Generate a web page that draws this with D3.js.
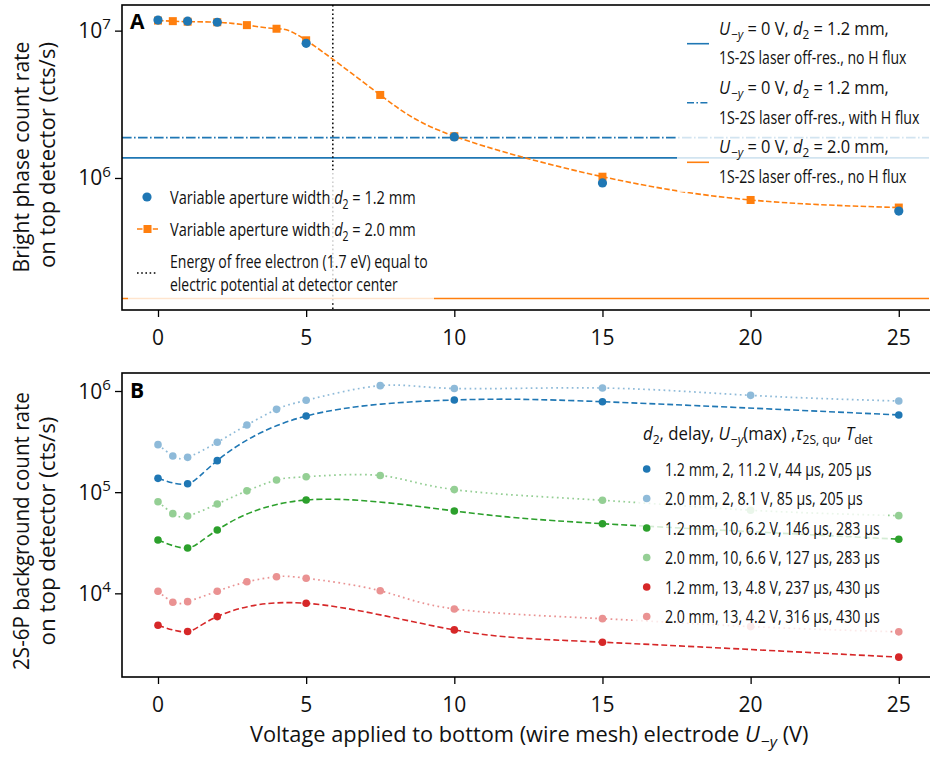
<!DOCTYPE html>
<html><head><meta charset="utf-8">
<script src="https://cdn.jsdelivr.net/npm/d3@7"></script>
<style>
body{margin:0;background:#fff;}
svg{display:block;}
</style></head><body>
<svg id="c" width="930" height="758"></svg>
<script>
// ---------------- data ----------------
const xTicks = [0, 5, 10, 15, 20, 25];
const yTicksA = [1e6, 1e7];
const yTicksB = [1e4, 1e5, 1e6];

// Panel A: bright phase count rate
const voltsA12 = [0, 1, 2, 5, 10, 15, 25];
const rateA12  = [1.18e7, 1.16e7, 1.14e7, 8.2e6, 1.9e6, 9.25e5, 5.96e5];
const voltsA20 = [0, 0.5, 1, 2, 3, 4, 5, 7.5, 10, 15, 20, 25];
const rateA20  = [1.17e7, 1.16e7, 1.15e7, 1.14e7, 1.09e7, 1.03e7, 8.6e6, 3.66e6, 1.92e6, 1.02e6, 7.09e5, 6.3e5];
const refLevels = [1.37e6, 1.88e6, 1.52e5];   // off-res: d2=1.2 no H, d2=1.2 with H, d2=2.0 no H
const freeElectronV = 5.9;

// Panel B: 2S-6P background count rate
const voltsB12 = [0, 1, 2, 5, 10, 15, 25];
const voltsB20 = [0, 0.5, 1, 2, 3, 4, 5, 7.5, 10, 15, 20, 25];
const bg12_delay2  = [1.37e5, 1.21e5, 2.05e5, 5.66e5, 8.15e5, 7.84e5, 5.8e5];
const bg20_delay2  = [2.95e5, 2.28e5, 2.21e5, 3.11e5, 4.61e5, 6.59e5, 8.09e5, 1.13e6, 1.06e6, 1.07e6, 9.06e5, 7.96e5];
const bg12_delay10 = [3.37e4, 2.81e4, 4.23e4, 8.37e4, 6.52e4, 4.88e4, 3.43e4];
const bg20_delay10 = [8.05e4, 6.13e4, 5.82e4, 7.64e4, 1.03e5, 1.32e5, 1.42e5, 1.46e5, 1.06e5, 8.31e4, 6.63e4, 5.86e4];
const bg12_delay13 = [4.84e3, 4.19e3, 5.89e3, 7.98e3, 4.35e3, 3.29e3, 2.34e3];
const bg20_delay13 = [1.05e4, 8.17e3, 8.28e3, 1.05e4, 1.30e4, 1.46e4, 1.41e4, 1.06e4, 7.01e3, 5.62e3, 4.69e3, 4.16e3];
const legendB = [
  "1.2 mm, 2, 11.2 V, 44 µs, 205 µs",
  "2.0 mm, 2, 8.1 V, 85 µs, 205 µs",
  "1.2 mm, 10, 6.2 V, 146 µs, 283 µs",
  "2.0 mm, 10, 6.6 V, 127 µs, 283 µs",
  "1.2 mm, 13, 4.8 V, 237 µs, 430 µs",
  "2.0 mm, 13, 4.2 V, 316 µs, 430 µs"
];

// ---------------- setup ----------------
const BLUE = "#1f77b4", ORANGE = "#ff7f0e", GREEN = "#2ca02c", RED = "#d62728";
const svg = d3.select("#c");
const L = 122, R = 929;
const A = {top: 5, bottom: 310}, B = {top: 373, bottom: 677};
const x = d3.scaleLinear().domain([-1.215, 26.02]).range([L, R]);
const yA = d3.scaleLog().domain([Math.pow(10, 5.104), Math.pow(10, 7.174)]).range([A.bottom, A.top]);
const yB = d3.scaleLog().domain([Math.pow(10, 3.173), Math.pow(10, 6.178)]).range([B.bottom, B.top]);

const NUM = '"Open Sans", "Noto Sans", sans-serif';
const COND = '"Open Sans", "Noto Sans", sans-serif';

// text with italic / sub / sup runs; optional horizontal squeeze to a target width
function rich(g, xx, yy, parts, size, family, len, anchor, rot) {
  const wrap = g.append("g").attr("transform", `translate(${xx},${yy})` + (rot ? ` rotate(${rot})` : ""));
  const t = wrap.append("text").attr("x", 0).attr("y", 0)
    .style("font-family", family).style("font-size", size + "px")
    .attr("text-anchor", anchor || "start").attr("fill", "#111");
  let shift = 0;
  parts.forEach(p => {
    const ts = t.append("tspan").text(p.t);
    const target = p.sub ? size * 0.24 : (p.sup ? -size * 0.42 : 0);
    if (target !== shift) { ts.attr("dy", target - shift); shift = target; }
    if (p.sub || p.sup) ts.style("font-size", (size * 0.72) + "px");
    if (p.it) ts.style("font-style", "italic");
    if (p.dx) ts.attr("dx", p.dx);
  });
  if (len) {
    const w = t.node().getBBox().width;
    if (w > 0) wrap.attr("transform", `translate(${xx},${yy})` + (rot ? ` rotate(${rot})` : "") + ` scale(${len / w},1)`);
  }
  return t;
}

const lineGen = (ys) => d3.line().x(d => x(d[0])).y(d => ys(d[1])).curve(d3.curveNatural);
const zip = (a, b) => a.map((v, i) => [v, b[i]]);

// ---------------- Panel A ----------------
const gA = svg.append("g");
svg.append("clipPath").attr("id", "clipA").append("rect")
  .attr("x", L).attr("y", A.top).attr("width", R - L).attr("height", A.bottom - A.top);
const pA = gA.append("g").attr("clip-path", "url(#clipA)");

pA.append("line").attr("x1", L).attr("x2", R).attr("y1", yA(refLevels[0])).attr("y2", yA(refLevels[0]))
  .attr("stroke", BLUE).attr("stroke-width", 1.6);
pA.append("line").attr("x1", L).attr("x2", R).attr("y1", yA(refLevels[1])).attr("y2", yA(refLevels[1]))
  .attr("stroke", BLUE).attr("stroke-width", 1.6).attr("stroke-dasharray", "9.6,2.4,1.6,2.4");
pA.append("line").attr("x1", L).attr("x2", R).attr("y1", yA(refLevels[2])).attr("y2", yA(refLevels[2]))
  .attr("stroke", ORANGE).attr("stroke-width", 1.6);
pA.append("line").attr("x1", x(freeElectronV)).attr("x2", x(freeElectronV)).attr("y1", A.top).attr("y2", A.bottom)
  .attr("stroke", "#000").attr("stroke-width", 1.5).attr("stroke-dasharray", "1.6,2.6");
pA.append("path").datum(zip(voltsA20, rateA20)).attr("d", lineGen(yA))
  .attr("fill", "none").attr("stroke", ORANGE).attr("stroke-width", 1.6).attr("stroke-dasharray", "5.5,2.4");
pA.selectAll("rect.sq").data(zip(voltsA20, rateA20)).join("rect")
  .attr("x", d => x(d[0]) - 4).attr("y", d => yA(d[1]) - 4).attr("width", 8).attr("height", 8).attr("fill", ORANGE);
pA.selectAll("circle.c").data(zip(voltsA12, rateA12)).join("circle")
  .attr("cx", d => x(d[0])).attr("cy", d => yA(d[1])).attr("r", 4.6).attr("fill", BLUE);

// legends A
gA.append("rect").attr("x", 128).attr("y", 170).attr("width", 306).attr("height", 132).attr("rx", 3)
  .attr("fill", "#fff").attr("fill-opacity", 0.8);
gA.append("rect").attr("x", 677).attr("y", 8).attr("width", 260).attr("height", 184).attr("rx", 3)
  .attr("fill", "#fff").attr("fill-opacity", 0.8);

const lg = gA.append("g");
lg.append("circle").attr("cx", 147).attr("cy", 197).attr("r", 4.6).attr("fill", BLUE);
lg.append("line").attr("x1", 137).attr("x2", 158).attr("y1", 229).attr("y2", 229).attr("stroke", ORANGE)
  .attr("stroke-width", 1.6).attr("stroke-dasharray", "5.5,2.4");
lg.append("rect").attr("x", 143.5).attr("y", 225).attr("width", 8).attr("height", 8).attr("fill", ORANGE);
lg.append("line").attr("x1", 137).attr("x2", 158).attr("y1", 273).attr("y2", 273).attr("stroke", "#000")
  .attr("stroke-width", 1.5).attr("stroke-dasharray", "1.6,2.6");
rich(lg, 170, 204, [{t: "Variable aperture width "}, {t: "d", it: 1}, {t: "2", sub: 1}, {t: " = 1.2 mm"}], 19, COND, 246);
rich(lg, 170, 236, [{t: "Variable aperture width "}, {t: "d", it: 1}, {t: "2", sub: 1}, {t: " = 2.0 mm"}], 19, COND, 246);
rich(lg, 170, 267.5, [{t: "Energy of free electron (1.7 eV) equal to"}], 17.5, COND, 258);
rich(lg, 170, 291, [{t: "electric potential at detector center"}], 17.5, COND, 228);

const lr = gA.append("g");
[[43.7, null, BLUE], [102.7, "7,2.4,1.6,2.4", BLUE], [162.3, null, ORANGE]].forEach(h => {
  const l = lr.append("line").attr("x1", 687).attr("x2", 709).attr("y1", h[0]).attr("y2", h[0])
    .attr("stroke", h[2]).attr("stroke-width", 1.6);
  if (h[1]) l.attr("stroke-dasharray", h[1]);
});
const uLine = (d2) => [{t: "U", it: 1}, {t: "−", sub: 1, dx: 1}, {t: "y", sub: 1, it: 1}, {t: " = 0 V, "}, {t: "d", it: 1}, {t: "2", sub: 1}, {t: " = " + d2 + " mm,"}];
rich(lr, 719, 35, uLine("1.2"), 18, COND, 170);
rich(lr, 719, 64, [{t: "1S-2S laser off-res., no H flux"}], 18, COND, 188);
rich(lr, 719, 94, uLine("1.2"), 18, COND, 170);
rich(lr, 719, 124, [{t: "1S-2S laser off-res., with H flux"}], 18, COND, 201);
rich(lr, 719, 153, uLine("2.0"), 18, COND, 170);
rich(lr, 719, 183, [{t: "1S-2S laser off-res., no H flux"}], 18, COND, 188);

// ---------------- Panel B ----------------
const gB = svg.append("g");
svg.append("clipPath").attr("id", "clipB").append("rect")
  .attr("x", L).attr("y", B.top).attr("width", R - L).attr("height", B.bottom - B.top);
const pB = gB.append("g").attr("clip-path", "url(#clipB)");

const seriesB = [
  {xs: voltsB12, ys: bg12_delay2, c: BLUE, light: false},
  {xs: voltsB20, ys: bg20_delay2, c: BLUE, light: true},
  {xs: voltsB12, ys: bg12_delay10, c: GREEN, light: false},
  {xs: voltsB20, ys: bg20_delay10, c: GREEN, light: true},
  {xs: voltsB12, ys: bg12_delay13, c: RED, light: false},
  {xs: voltsB20, ys: bg20_delay13, c: RED, light: true}
];
seriesB.forEach(s => {
  const g = pB.append("g").attr("opacity", s.light ? 0.5 : 1);
  const data = zip(s.xs, s.ys);
  g.append("path").datum(data).attr("d", lineGen(yB)).attr("fill", "none").attr("stroke", s.c)
    .attr("stroke-width", s.light ? 1.7 : 1.6).attr("stroke-dasharray", s.light ? "1.7,3.4" : "6,3");
  g.selectAll("circle").data(data).join("circle")
    .attr("cx", d => x(d[0])).attr("cy", d => yB(d[1])).attr("r", 3.8).attr("fill", s.c);
});

gB.append("rect").attr("x", 636).attr("y", 416).attr("width", 252).attr("height", 218).attr("rx", 3)
  .attr("fill", "#fff").attr("fill-opacity", 0.8);
const lb = gB.append("g");
rich(lb, 643, 440, [{t: "d", it: 1}, {t: "2", sub: 1}, {t: ", delay, "}, {t: "U", it: 1}, {t: "−", sub: 1, dx: 1}, {t: "y", sub: 1, it: 1},
  {t: "(max) ,"}, {t: "τ", it: 1}, {t: "2S, qu", sub: 1}, {t: ", "}, {t: "T", it: 1}, {t: "det", sub: 1}], 18.5, COND, 230);
const widthsB = [207, 198, 215, 215, 215, 215];
legendB.forEach((txt, i) => {
  const yy = 469 + i * 29.5;
  const s = seriesB[i];
  lb.append("circle").attr("cx", 646.7).attr("cy", yy).attr("r", 3.8).attr("fill", s.c).attr("opacity", s.light ? 0.5 : 1);
  rich(lb, 665, yy + 6.5, [{t: txt}], 18, COND, widthsB[i]);
});

// ---------------- axes ----------------
function drawAxes(g, ys, box, majors) {
  const [d0, d1] = ys.domain();
  const minors = [];
  for (let e = Math.floor(Math.log10(d0)); e <= Math.ceil(Math.log10(d1)); e++) {
    for (let m = 2; m <= 9; m++) { const v = m * Math.pow(10, e); if (v >= d0 && v <= d1) minors.push(v); }
  }
  const ga = g.append("g").attr("transform", `translate(${L},0)`);
  ga.call(d3.axisLeft(ys).tickValues(minors).tickSize(3.5).tickFormat(""));
  ga.call(d3.axisLeft(ys).tickValues(majors).tickSize(7).tickFormat(""));
  ga.selectAll("path.domain").remove();
  ga.selectAll("line").attr("stroke", "#000").attr("stroke-width", 1.3);
  majors.forEach(v => {
    const e = Math.round(Math.log10(v));
    rich(g, 111, ys(v) + 7.5, [{t: "10"}, {t: String(e), sup: 1}], 21, NUM, null, "end");
  });
  const gx = g.append("g").attr("transform", `translate(0,${box.bottom})`)
    .call(d3.axisBottom(x).tickValues(xTicks).tickSize(7).tickFormat(""));
  gx.selectAll("path.domain").remove();
  gx.selectAll("line").attr("stroke", "#000").attr("stroke-width", 1.3);
  xTicks.forEach(v => {
    g.append("text").attr("x", x(v)).attr("y", box.bottom + 35).attr("text-anchor", "middle")
      .style("font-family", NUM).style("font-size", "21px").attr("fill", "#111").text(v);
  });
  g.append("rect").attr("x", L).attr("y", box.top).attr("width", R - L + 4).attr("height", box.bottom - box.top)
    .attr("fill", "none").attr("stroke", "#000").attr("stroke-width", 1.6);
}
drawAxes(gA, yA, A, yTicksA);
drawAxes(gB, yB, B, yTicksB);

// panel letters
svg.append("text").attr("x", 130).attr("y", 28.5).style("font-family", NUM).style("font-weight", "bold")
  .style("font-size", "21px").text("A");
svg.append("text").attr("x", 130).attr("y", 397.5).style("font-family", NUM).style("font-weight", "bold")
  .style("font-size", "21px").text("B");

// axis labels
rich(svg, 29, 157, [{t: "Bright phase count rate"}], 21, NUM, 231, "middle", -90);
rich(svg, 55, 155, [{t: "on top detector (cts/s)"}], 21, NUM, 226, "middle", -90);
rich(svg, 29, 531, [{t: "2S-6P background count rate"}], 21, NUM, 278, "middle", -90);
rich(svg, 55, 531, [{t: "on top detector (cts/s)"}], 21, NUM, 229, "middle", -90);

rich(svg, 250, 742, [{t: "Voltage applied to bottom (wire mesh) electrode "}, {t: "U", it: 1}, {t: "−", sub: 1, dx: 1}, {t: "y", sub: 1, it: 1}, {t: " (V)"}],
  21, NUM, 559);
</script>
</body></html>
